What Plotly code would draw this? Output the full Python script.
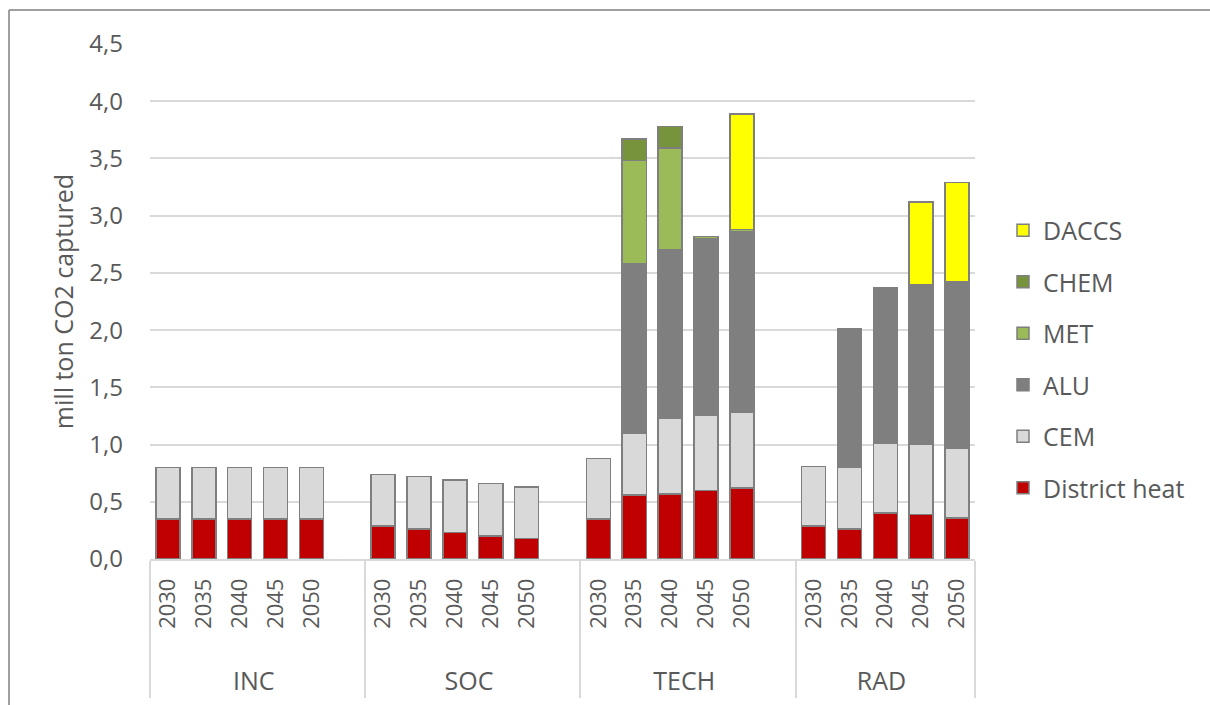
import plotly.graph_objects as go

# Scenarios and years shown on the two-level category axis
scenarios = ["INC", "SOC", "TECH", "RAD"]
years = ["2030", "2035", "2040", "2045", "2050"]

# CO2 captured (mill ton) per source, ordered scenario by scenario, year by year
district_heat = [0.35, 0.35, 0.35, 0.35, 0.35,
                 0.29, 0.26, 0.23, 0.20, 0.18,
                 0.35, 0.56, 0.57, 0.60, 0.62,
                 0.29, 0.26, 0.40, 0.39, 0.36]
cem = [0.45, 0.45, 0.45, 0.45, 0.45,
       0.45, 0.46, 0.46, 0.46, 0.45,
       0.53, 0.54, 0.66, 0.66, 0.66,
       0.52, 0.54, 0.61, 0.61, 0.61]
alu = [0, 0, 0, 0, 0,
       0, 0, 0, 0, 0,
       0, 1.48, 1.47, 1.54, 1.58,
       0, 1.21, 1.36, 1.40, 1.45]
met = [0, 0, 0, 0, 0,
       0, 0, 0, 0, 0,
       0, 0.90, 0.89, 0.02, 0.02,
       0, 0, 0, 0, 0]
chem = [0, 0, 0, 0, 0,
        0, 0, 0, 0, 0,
        0, 0.19, 0.19, 0, 0,
        0, 0, 0, 0, 0]
daccs = [0, 0, 0, 0, 0,
         0, 0, 0, 0, 0,
         0, 0, 0, 0, 1.01,
         0, 0, 0, 0.72, 0.87]

# name, values, fill colour, legend position (top to bottom)
series = [
    ("District heat", district_heat, "#C00000", 6),
    ("CEM", cem, "#D9D9D9", 5),
    ("ALU", alu, "#7F7F7F", 4),
    ("MET", met, "#9BBB59", 3),
    ("CHEM", chem, "#77933C", 2),
    ("DACCS", daccs, "#FFFF00", 1),
]

# Build the two-level x positions; a blank slot separates consecutive scenarios.
# Scenario names get a leading blank line so they sit lower, below the years.
outer, inner, index = [], [], []
k = 0
for si, sc in enumerate(scenarios):
    label = f"<br><span style='font-size:25px'>{sc}</span>"
    for yr in years:
        outer.append(label)
        inner.append(yr)
        index.append(k)
        k += 1
    if si < len(scenarios) - 1:
        outer.append(label)
        inner.append(" ")
        index.append(None)

def expand(vals):
    return [None if i is None else vals[i] for i in index]

font_col = "#595959"
FONT = "Open Sans"

fig = go.Figure()
for name, vals, col, rank in series:
    fig.add_trace(go.Bar(
        x=[outer, inner],
        y=expand(vals),
        name=name,
        legendgroup=name,
        legendrank=rank,
        marker=dict(color=col, line=dict(color="#7F7F7F", width=1.5)),
        hoverinfo="skip",
    ))

L, R, T, B = 150, 235, 44, 146
W, H = 1210, 705
pw, ph = W - L - R, H - T - B

def px_x(x):
    return (x - L) / pw

def px_y(y):
    return (H - B - y) / ph

fig.update_layout(
    width=W, height=H,
    margin=dict(l=L, r=R, t=T, b=B),
    barmode="stack",
    bargap=0.33,
    separators=", ",
    paper_bgcolor="white",
    plot_bgcolor="white",
    font=dict(family=FONT, size=20, color=font_col),
    legend=dict(
        x=px_x(1003), xanchor="left",
        y=px_y(359), yanchor="middle",
        traceorder="grouped",
        tracegroupgap=16,
        font=dict(size=25, color=font_col),
        itemwidth=30,
    ),
    xaxis=dict(
        type="multicategory",
        automargin=False,
        tickangle=-90,
        showgrid=False,
        showline=True,
        linecolor="#D9D9D9",
        linewidth=1.5,
        ticks="",
        ticklabelstandoff=9,
        showdividers=True,
        dividercolor="#D9D9D9",
        dividerwidth=1.5,
        tickfont=dict(size=22, color=font_col),
    ),
    yaxis=dict(
        range=[0, 4.5],
        automargin=False,
        dtick=0.5,
        tickformat=".1f",
        showgrid=True,
        gridcolor="#D9D9D9",
        gridwidth=1.5,
        zeroline=False,
        showline=False,
        ticks="",
        ticklabelstandoff=26,
        tickfont=dict(size=24, color=font_col),
        title=dict(text="mill ton CO2 captured", font=dict(size=25, color=font_col), standoff=8),
    ),
    shapes=[
        dict(type="line", xref="paper", yref="paper",
             x0=px_x(9), x1=px_x(9), y0=px_y(10), y1=px_y(H + 5),
             line=dict(color="#808080", width=1.5)),
        dict(type="line", xref="paper", yref="paper",
             x0=px_x(9), x1=px_x(W + 5), y0=px_y(10), y1=px_y(10),
             line=dict(color="#808080", width=1.5)),
    ],
)

fig.write_html("out.html")
